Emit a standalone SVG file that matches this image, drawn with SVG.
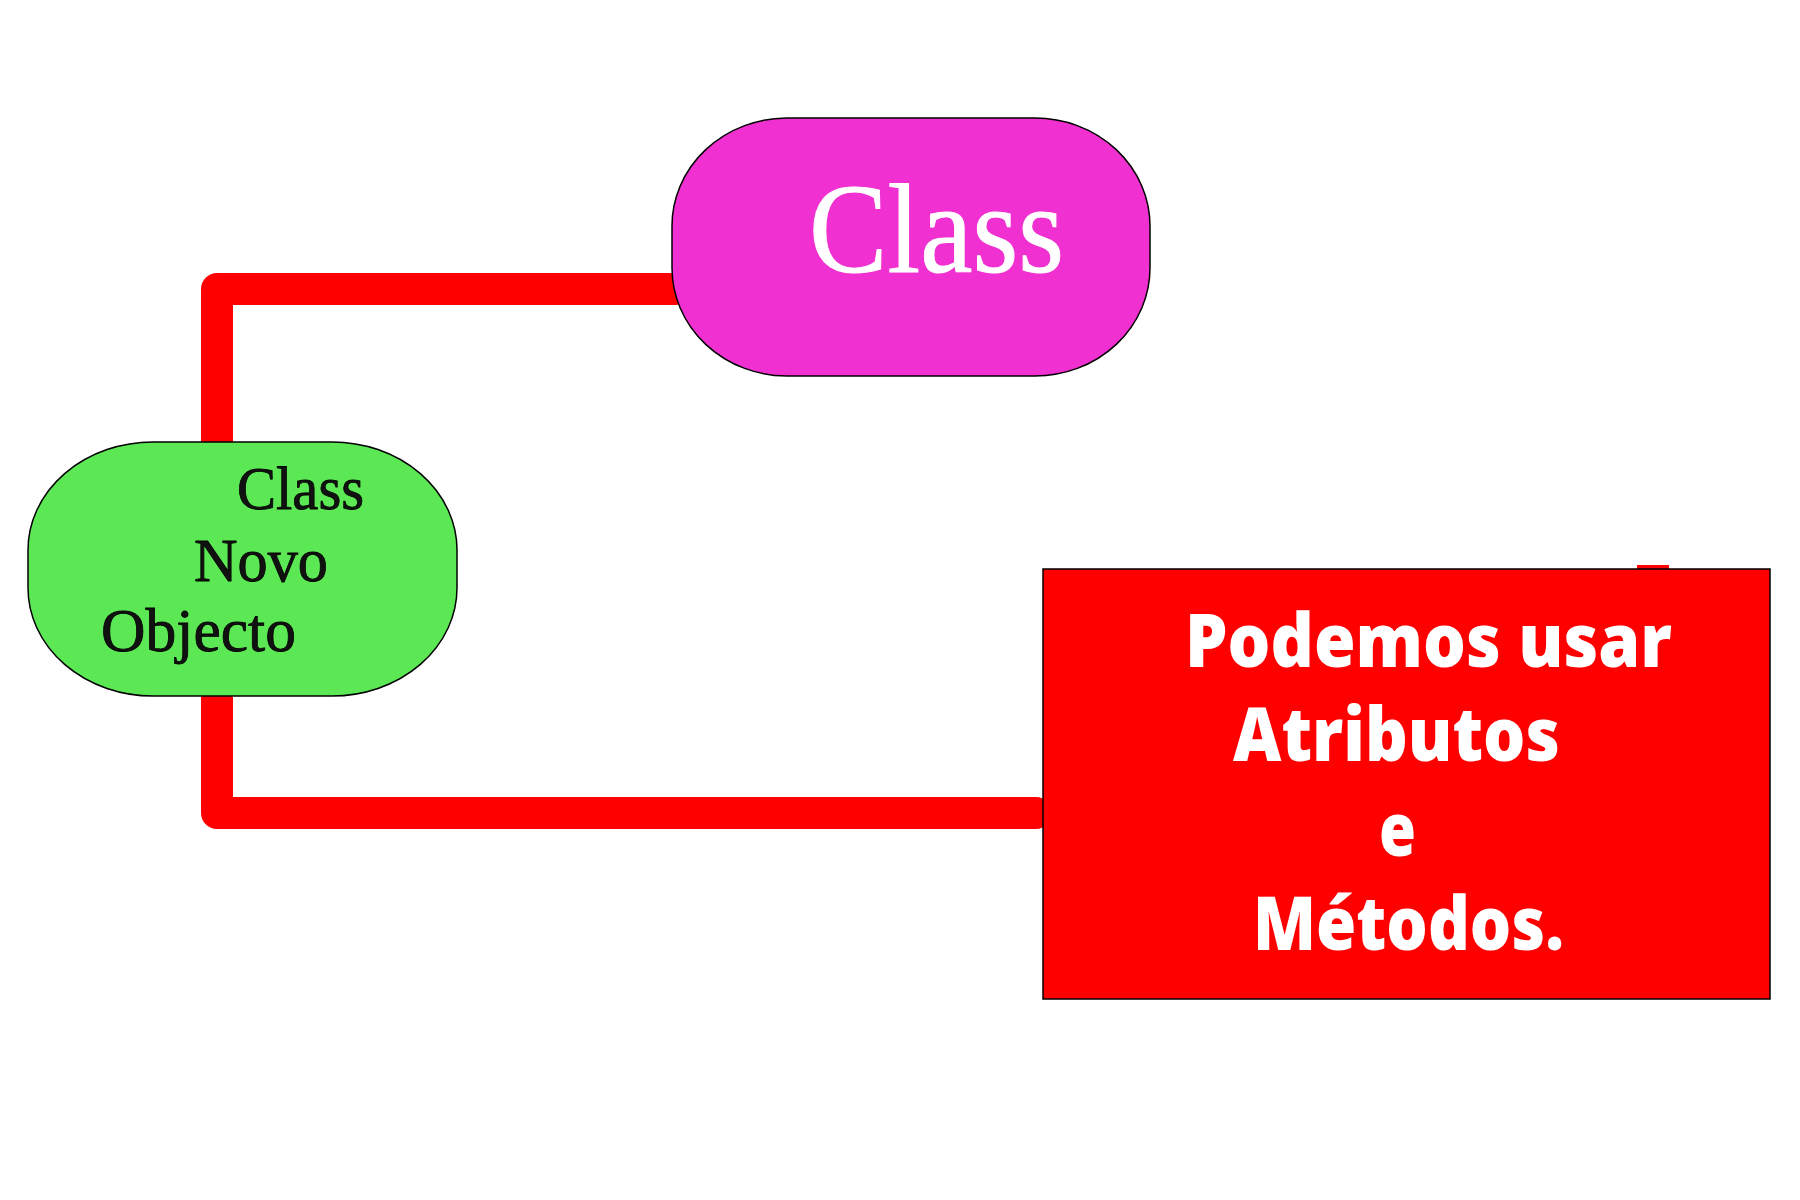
<svg xmlns="http://www.w3.org/2000/svg" width="1800" height="1200" viewBox="0 0 1800 1200">
<style>
.node{stroke:#000;stroke-width:1.5}
.conn{fill:none;stroke:#ff0000;stroke-width:32;stroke-linejoin:round;stroke-linecap:round}
.serif{font-family:"Liberation Serif","Times New Roman",serif}
.bold{font-family:"Open Sans","Liberation Sans",sans-serif;font-weight:800;fill:#fff}
</style>
<rect width="1800" height="1200" fill="#fff"/>
<g id="connectors">
<path class="conn" d="M 676 289 H 217 V 450"/>
<path class="conn" d="M 217 690 V 813 H 1036"/>
<rect x="1637" y="565" width="32" height="4" fill="#ff0000"/>
</g>
<g id="node-class">
<rect class="node" x="672" y="118" width="478" height="258" rx="115" ry="108" fill="#f030d0"/>
<text class="serif" x="809" y="272" font-size="128" textLength="255" lengthAdjust="spacingAndGlyphs" fill="#fff" stroke="#fff" stroke-width="1">Class</text>
</g>
<g id="node-objecto">
<rect class="node" x="28" y="442" width="429" height="254" rx="125" ry="108" fill="#5ce854"/>
<g class="serif" font-size="62" fill="#111" stroke="#000" stroke-width="0.8">
<text x="237" y="509" textLength="127" lengthAdjust="spacingAndGlyphs">Class</text>
<text x="194" y="581" textLength="134" lengthAdjust="spacingAndGlyphs">Novo</text>
<text x="101" y="651" textLength="195" lengthAdjust="spacingAndGlyphs">Objecto</text>
</g>
</g>
<g id="node-atributos">
<rect class="node" x="1043" y="569" width="727" height="430" fill="#ff0000"/>
<g class="bold" font-size="74">
<text x="1185" y="667" textLength="487" lengthAdjust="spacingAndGlyphs">Podemos usar</text>
<text x="1233" y="761" textLength="327" lengthAdjust="spacingAndGlyphs">Atributos</text>
<text x="1379" y="856" textLength="37" lengthAdjust="spacingAndGlyphs">e</text>
<text x="1253" y="950" textLength="311" lengthAdjust="spacingAndGlyphs">Métodos.</text>
</g>
</g>
</svg>
